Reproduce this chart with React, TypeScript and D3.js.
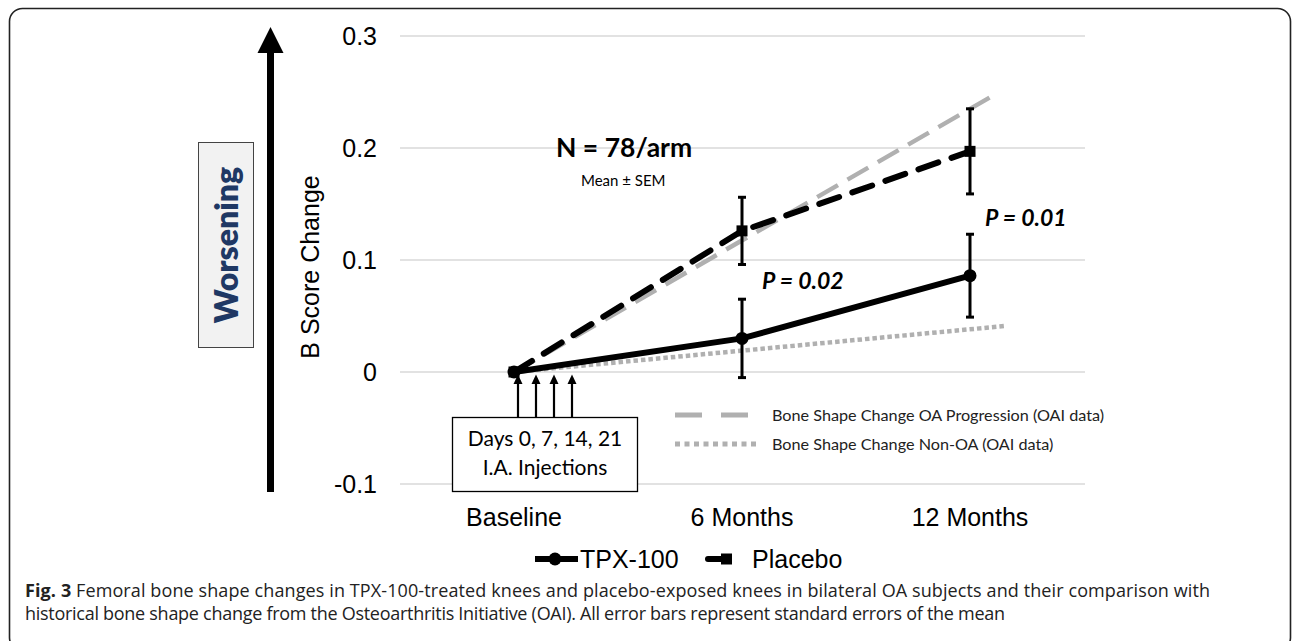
import React from "react";
import * as d3 from "d3";

const categories = ["Baseline", "6 Months", "12 Months"];
const tpxMean = [0, 0.030, 0.086];
const tpxSem = [0, 0.035, 0.037];
const placeboMean = [0, 0.126, 0.197];
const placeboSem = [0, 0.030, 0.038];
const yTicks = [-0.1, 0, 0.1, 0.2, 0.3];
const yTickLabels = ["-0.1", "0", "0.1", "0.2", "0.3"];
// grey reference trend lines (x in category index units)
const oaProgression: [number, number][] = [[0, 0], [2.12, 0.249]];
const nonOA: [number, number][] = [[0, 0], [2.15, 0.041]];
const injectionDays = [0, 7, 14, 21];

const W = 1292;
const H = 641;

export default function App() {
  const x = d3.scaleLinear().domain([0, 2]).range([514, 970]);
  const y = d3.scaleLinear().domain([-0.1, 0.3]).range([484, 36]);
  const gridX0 = 400;
  const gridX1 = 1085;

  const catLine = d3
    .line<number>()
    .x((_, i) => x(i))
    .y((d) => y(d));
  const refLine = d3
    .line<[number, number]>()
    .x((d) => x(d[0]))
    .y((d) => y(d[1]));

  const arrowX = d3.scalePoint<number>().domain(injectionDays).range([518, 572]);

  const arial = "'Liberation Sans', Arial, sans-serif";
  const calibri = "Lato, 'Open Sans', sans-serif";
  const caption = "'Open Sans', sans-serif";

  const grey = "#b0b0b0";

  return (
    <svg width={W} height={H} style={{ position: "absolute", left: 0, top: 0, background: "#fff" }}>
      <rect x={9.5} y={8.5} width={1281} height={642} rx={13} fill="#fff" stroke="#222" strokeWidth={1.6} />

      {/* gridlines */}
      {yTicks.map((t) => (
        <line key={t} x1={gridX0} x2={gridX1} y1={y(t)} y2={y(t)} stroke="#d9d9d9" strokeWidth={1.3} />
      ))}
      {yTicks.map((t, i) => (
        <text key={"l" + t} x={377} y={y(t)} dy="0.36em" textAnchor="end" fontFamily={arial} fontSize={25} fill="#000">
          {yTickLabels[i]}
        </text>
      ))}
      <text transform={`translate(319,267) rotate(-90)`} textAnchor="middle" fontFamily={arial} fontSize={25} fill="#000">
        B Score Change
      </text>

      {/* Worsening box and arrow */}
      <rect x={198.5} y={142.5} width={55} height={205} fill="#f2f2f2" stroke="#444" strokeWidth={1} />
      <text transform={`translate(238,245) rotate(-90)`} textAnchor="middle" fontFamily={calibri} fontWeight={800} fontSize={32} fill="#1f3864">
        Worsening
      </text>
      <rect x={267} y={50} width={7} height={442} fill="#000" />
      <polygon points="257.5,53 283.5,53 270.5,27" fill="#000" />

      {/* x labels */}
      {categories.map((c, i) => (
        <text key={c} x={x(i)} y={526} textAnchor="middle" fontFamily={arial} fontSize={25} fill="#000">
          {c}
        </text>
      ))}

      {/* reference lines */}
      <path d={refLine(oaProgression) || ""} fill="none" stroke={grey} strokeWidth={4.5} strokeDasharray="24 11" />
      <path d={refLine(nonOA) || ""} fill="none" stroke={grey} strokeWidth={4.5} strokeDasharray="4.5 3" />

      {/* placebo */}
      <path d={catLine(placeboMean) || ""} fill="none" stroke="#000" strokeWidth={6} strokeDasharray="21 14" strokeLinecap="round" />
      {/* TPX */}
      <path d={catLine(tpxMean) || ""} fill="none" stroke="#000" strokeWidth={6} />

      {/* error bars */}
      {[{ m: tpxMean, s: tpxSem }, { m: placeboMean, s: placeboSem }].map((ser, k) =>
        ser.m.map((v, i) =>
          ser.s[i] > 0 ? (
            <g key={`e${k}${i}`} stroke="#000" strokeWidth={3}>
              <line x1={x(i)} x2={x(i)} y1={y(v - ser.s[i])} y2={y(v + ser.s[i])} />
              <line x1={x(i) - 4} x2={x(i) + 4} y1={y(v - ser.s[i])} y2={y(v - ser.s[i])} />
              <line x1={x(i) - 4} x2={x(i) + 4} y1={y(v + ser.s[i])} y2={y(v + ser.s[i])} />
            </g>
          ) : null
        )
      )}
      {/* markers */}
      {placeboMean.map((v, i) => (
        <rect key={"pm" + i} x={x(i) - 5.5} y={y(v) - 5.5} width={11} height={11} fill="#000" />
      ))}
      {tpxMean.map((v, i) => (
        <circle key={"tm" + i} cx={x(i)} cy={y(v)} r={6.5} fill="#000" />
      ))}

      {/* injection arrows */}
      {injectionDays.map((d) => (
        <g key={"a" + d}>
          <line x1={arrowX(d)} x2={arrowX(d)} y1={417} y2={382} stroke="#000" strokeWidth={2.2} />
          <polygon points={`${arrowX(d)! - 4.5},384 ${arrowX(d)! + 4.5},384 ${arrowX(d)},374.5`} fill="#000" />
        </g>
      ))}
      <rect x={452.5} y={417.5} width={185} height={74} fill="#fff" stroke="#000" strokeWidth={1.3} />
      <text x={545} y={446} textAnchor="middle" fontFamily={calibri} fontSize={21} fill="#000">
        Days 0, 7, 14, 21
      </text>
      <text x={545} y={475} textAnchor="middle" fontFamily={calibri} fontSize={21} fill="#000">
        I.A. Injections
      </text>

      {/* annotations */}
      <text x={556} y={157} fontFamily={calibri} fontWeight={700} fontSize={26.5} fill="#000">
        N = 78/arm
      </text>
      <text x={581} y={186} fontFamily={calibri} fontSize={15} fill="#000">
        Mean ± SEM
      </text>
      <text x={762} y={289} fontFamily={calibri} fontWeight={700} fontStyle="italic" fontSize={23} fill="#000">
        P = 0.02
      </text>
      <text x={985} y={226} fontFamily={calibri} fontWeight={700} fontStyle="italic" fontSize={23} fill="#000">
        P = 0.01
      </text>

      {/* grey legend */}
      <line x1={675} x2={748} y1={415} y2={415} stroke={grey} strokeWidth={5} strokeDasharray="27 19" />
      <text x={772} y={420.5} fontFamily={calibri} fontSize={16.2} fill="#222">
        Bone Shape Change OA Progression (OAI data)
      </text>
      <line x1={675} x2={758} y1={444} y2={444} stroke={grey} strokeWidth={5} strokeDasharray="5 4.5" />
      <text x={772} y={449.5} fontFamily={calibri} fontSize={16.2} fill="#222">
        Bone Shape Change Non-OA (OAI data)
      </text>

      {/* series legend */}
      <line x1={535} x2={578} y1={559} y2={559} stroke="#000" strokeWidth={6} />
      <circle cx={555} cy={559} r={6.5} fill="#000" />
      <text x={580} y={568} fontFamily={arial} fontSize={25} fill="#000">
        TPX-100
      </text>
      <line x1={708} x2={726} y1={559} y2={559} stroke="#000" strokeWidth={6} strokeLinecap="round" />
      <rect x={721} y={553.5} width={11} height={11} fill="#000" />
      <text x={752} y={568} fontFamily={arial} fontSize={25} fill="#000">
        Placebo
      </text>

      {/* caption */}
      <text x={25} y={597} fontFamily={caption} fontSize={18} fill="#222" textLength={1185} lengthAdjust="spacing">
        <tspan fontWeight={700}>Fig. 3</tspan>
        <tspan> Femoral bone shape changes in TPX-100-treated knees and placebo-exposed knees in bilateral OA subjects and their comparison with</tspan>
      </text>
      <text x={25} y={620} fontFamily={caption} fontSize={18} fill="#222" textLength={980} lengthAdjust="spacing">
        historical bone shape change from the Osteoarthritis Initiative (OAI). All error bars represent standard errors of the mean
      </text>
    </svg>
  );
}
